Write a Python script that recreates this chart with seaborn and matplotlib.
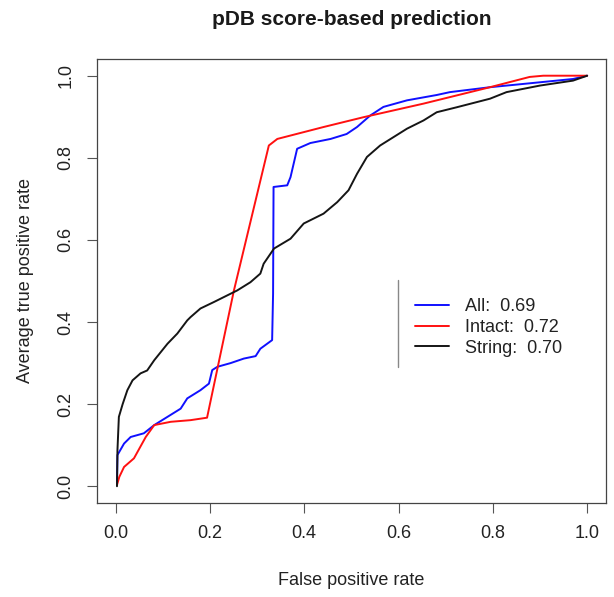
import matplotlib
matplotlib.use("Agg")
import matplotlib.pyplot as plt
import seaborn as sns
import pandas as pd
import numpy as np

# ---- data ----
all_fpr = [0.003, 0.004, 0.018, 0.032, 0.06, 0.082, 0.11, 0.138, 0.152, 0.18, 0.198, 0.205, 0.216,
           0.244, 0.272, 0.297, 0.307, 0.332, 0.334, 0.335, 0.364, 0.371, 0.385, 0.413, 0.456, 0.49,
           0.512, 0.54, 0.568, 0.618, 0.681, 0.709, 0.794, 0.865, 0.935, 0.97, 1.0]
all_tpr = [0.007, 0.076, 0.104, 0.12, 0.129, 0.149, 0.169, 0.189, 0.214, 0.234, 0.25, 0.283, 0.291,
           0.3, 0.311, 0.317, 0.335, 0.356, 0.469, 0.729, 0.733, 0.753, 0.822, 0.836, 0.846, 0.858,
           0.875, 0.903, 0.924, 0.94, 0.953, 0.96, 0.972, 0.98, 0.988, 0.992, 1.0]

intact_fpr = [0.003, 0.008, 0.018, 0.039, 0.064, 0.082, 0.117, 0.159, 0.194, 0.251, 0.325, 0.343,
              0.441, 0.526, 0.653, 0.794, 0.878, 0.907, 1.0]
intact_tpr = [0.003, 0.023, 0.047, 0.068, 0.12, 0.149, 0.157, 0.161, 0.167, 0.477, 0.83, 0.846,
              0.875, 0.899, 0.932, 0.972, 0.997, 1.0, 1.0]

string_fpr = [0.003, 0.004, 0.007, 0.015, 0.025, 0.036, 0.053, 0.067, 0.082, 0.11, 0.131, 0.152,
              0.159, 0.18, 0.209, 0.23, 0.258, 0.286, 0.307, 0.314, 0.336, 0.371, 0.399, 0.441,
              0.47, 0.494, 0.512, 0.533, 0.561, 0.618, 0.653, 0.681, 0.723, 0.794, 0.829, 0.9,
              0.97, 1.0]
string_tpr = [0.0, 0.088, 0.169, 0.2, 0.234, 0.258, 0.275, 0.282, 0.307, 0.347, 0.372, 0.404,
              0.412, 0.433, 0.449, 0.461, 0.477, 0.497, 0.518, 0.542, 0.579, 0.603, 0.64, 0.664,
              0.692, 0.721, 0.761, 0.802, 0.83, 0.871, 0.891, 0.911, 0.923, 0.944, 0.96, 0.976,
              0.988, 1.0]

series_names = ["All", "Intact", "String"]
auc_values = [0.69, 0.72, 0.70]
x_ticks = [0.0, 0.2, 0.4, 0.6, 0.8, 1.0]
y_ticks = [0.0, 0.2, 0.4, 0.6, 0.8, 1.0]

labels = [f"{n}:  {a:.2f}" for n, a in zip(series_names, auc_values)]
frames = []
for lab, fx, ty in zip(labels, [all_fpr, intact_fpr, string_fpr], [all_tpr, intact_tpr, string_tpr]):
    frames.append(pd.DataFrame({"fpr": fx, "tpr": ty, "series": lab, "order": np.arange(len(fx))}))
df = pd.concat(frames, ignore_index=True)

sns.set_style("white")
plt.rcParams["font.family"] = ["Liberation Sans", "DejaVu Sans"]

fig = plt.figure(figsize=(6.14, 5.97), dpi=100)
ax = fig.add_axes([0.1575, 0.158, 0.8295, 0.7427])

palette = {labels[0]: "#1010ff", labels[1]: "#ff1010", labels[2]: "#151515"}
sns.lineplot(data=df, x="fpr", y="tpr", hue="series", palette=palette, sort=False,
             estimator=None, units="series", linewidth=1.4, ax=ax, legend=True)

ax.set_xlim(-0.04, 1.04)
ax.set_ylim(-0.04, 1.04)
ax.set_xticks(x_ticks)
ax.set_yticks(y_ticks)
ax.set_xticklabels([f"{t:.1f}" for t in x_ticks], fontsize=13, color="#222222")
ax.set_yticklabels([f"{t:.1f}" for t in y_ticks], fontsize=13, color="#222222",
                   rotation=90, va="center")
ax.tick_params(axis="both", direction="out", length=7, width=0.8, color="#555555",
               bottom=True, left=True, pad=9)
for s in ax.spines.values():
    s.set_color("#444444")
    s.set_linewidth(0.9)

ax.set_xlabel("False positive rate", fontsize=13, color="#222222", labelpad=22)
ax.set_ylabel("Average true positive rate", fontsize=13, color="#222222", labelpad=17)
ax.set_title("pDB score-based prediction", fontsize=15, fontweight="bold",
             color="#1a1a1a", pad=25)

leg = ax.legend(loc="upper left", bbox_to_anchor=(0.61, 0.477), frameon=False,
                fontsize=13, handlelength=1.9, handletextpad=0.9, labelspacing=0.2,
                borderaxespad=0)
for t in leg.get_texts():
    t.set_color("#222222")
ax.plot([0.598, 0.598], [0.29, 0.502], color="#888888", linewidth=1.0)

fig.savefig("out.png", dpi=100)
